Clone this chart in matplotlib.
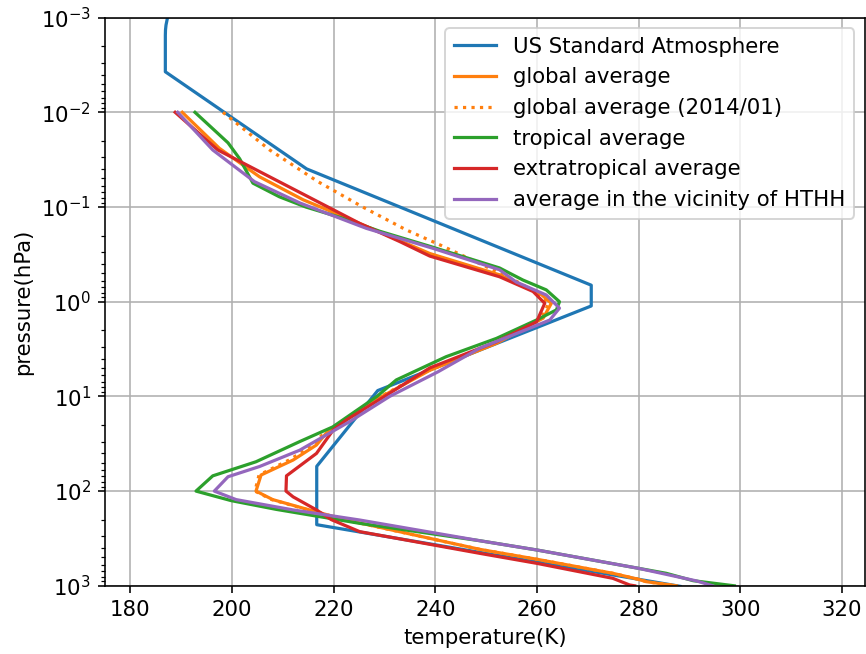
import matplotlib
matplotlib.use("Agg")
import matplotlib.pyplot as plt

# US Standard Atmosphere 1976
p_us = [0.0008, 0.001, 0.0012, 0.00135, 0.00154, 0.0037338, 0.039564, 0.66939, 1.1091, 8.6802, 54.749, 226.32, 1013.25]
t_us = [188.0, 187.3, 187.0, 186.9, 186.87, 186.87, 214.65, 270.65, 270.65, 228.65, 216.65, 216.65, 288.15]

# global average
p_glb = [0.01, 0.024, 0.048, 0.084, 0.13, 0.31, 0.52, 0.81, 1.04, 1.49, 2.75, 5.3, 10, 24.5, 32.6, 47, 67.6, 100, 123, 158, 202, 412, 525, 738, 853, 905, 1000]
t_glb = [190.2, 197.5, 205.4, 214.0, 222.5, 238.9, 252.6, 260.5, 262.8, 261.2, 252.0, 238.9, 229.5, 218.5, 216.6, 212.0, 205.7, 204.7, 208.0, 215.2, 222.5, 248.7, 260.0, 274.9, 279.9, 281.5, 287.4]

# global average (2014/01)
p_glb14 = [0.01, 0.025, 0.054, 0.1, 0.175, 0.25, 0.38, 0.59, 0.81, 1.04, 1.49, 2.75, 5.3, 10, 24.5, 32.6, 47, 67.6, 100, 123, 158, 202, 412, 525, 738, 853, 905, 1000]
t_glb14 = [198.2, 207.4, 216.9, 225.7, 234.3, 240.8, 248.0, 255.5, 260.0, 262.3, 260.8, 251.8, 238.7, 229.3, 218.0, 216.0, 211.2, 205.3, 204.5, 207.8, 215.0, 222.4, 248.7, 260.0, 274.9, 279.9, 281.5, 287.4]

# tropical average
p_trp = [0.01, 0.021, 0.031, 0.056, 0.078, 0.1, 0.13, 0.18, 0.26, 0.44, 0.59, 0.75, 1.0, 1.22, 1.56, 2.44, 3.81, 6.7, 10, 21, 30, 49, 69, 100, 126, 156, 186, 219, 334, 419, 653, 738, 883, 1000]
t_trp = [192.7, 199.2, 201.5, 204.1, 209.3, 214.5, 221.5, 229.0, 238.9, 252.6, 257.2, 261.8, 264.4, 263.8, 259.9, 252.0, 242.1, 232.3, 228.5, 219.8, 213.3, 204.7, 196.2, 192.9, 199.8, 208.7, 217.2, 225.1, 248.7, 260.0, 279.9, 285.4, 290.7, 298.8]

# extratropical average
p_ext = [0.01, 0.025, 0.149, 0.232, 0.33, 0.545, 0.78, 1.04, 1.63, 2.65, 5.0, 10, 17.7, 22.6, 40, 69, 100, 115, 158, 200, 268, 454, 580, 834, 980, 1000]
t_ext = [188.8, 197.2, 225.1, 233.0, 238.9, 252.6, 259.2, 261.5, 259.9, 252.0, 238.9, 230.0, 222.5, 219.9, 216.6, 210.7, 210.6, 212.0, 216.6, 219.5, 225.1, 248.7, 260.0, 274.9, 278.2, 279.2]

# average in the vicinity of HTHH
p_hthh = [0.01, 0.025, 0.054, 0.091, 0.168, 0.273, 0.46, 0.62, 0.85, 1.17, 1.56, 1.91, 3.1, 5.5, 10, 18.5, 37, 55, 70.5, 100, 123, 158, 202, 334, 419, 653, 889, 1000]
t_hthh = [189.3, 196.2, 204.4, 213.4, 226.4, 239.5, 252.6, 255.9, 261.8, 264.4, 262.5, 258.5, 248.7, 240.5, 231.0, 223.1, 213.3, 205.4, 199.2, 196.5, 200.8, 212.0, 225.1, 248.7, 260.0, 279.9, 291.4, 294.5]

plt.rcParams["font.size"] = 10.65
LW = 1.6

fig = plt.figure(figsize=(866 / 144, 654 / 144), dpi=144)
ax = fig.add_axes([105 / 866, 1 - 585.8 / 654, 760 / 866, (585.8 - 17.6) / 654])

ax.plot(t_us, p_us, color="C0", lw=LW, label="US Standard Atmosphere")
ax.plot(t_glb, p_glb, color="C1", lw=LW, label="global average")
ax.plot(t_glb14, p_glb14, color="C1", lw=LW, linestyle=":", label="global average (2014/01)")
ax.plot(t_trp, p_trp, color="C2", lw=LW, label="tropical average")
ax.plot(t_ext, p_ext, color="C3", lw=LW, label="extratropical average")
ax.plot(t_hthh, p_hthh, color="C4", lw=LW, label="average in the vicinity of HTHH")

ax.set_yscale("log")
ax.set_ylim(1e3, 1e-3)
ax.set_xlim(175, 324.5)
ax.set_xlabel("temperature(K)")
ax.set_ylabel("pressure(hPa)")
ax.grid(True)
ax.legend(loc="upper right")

fig.savefig("out.png", dpi=144)
